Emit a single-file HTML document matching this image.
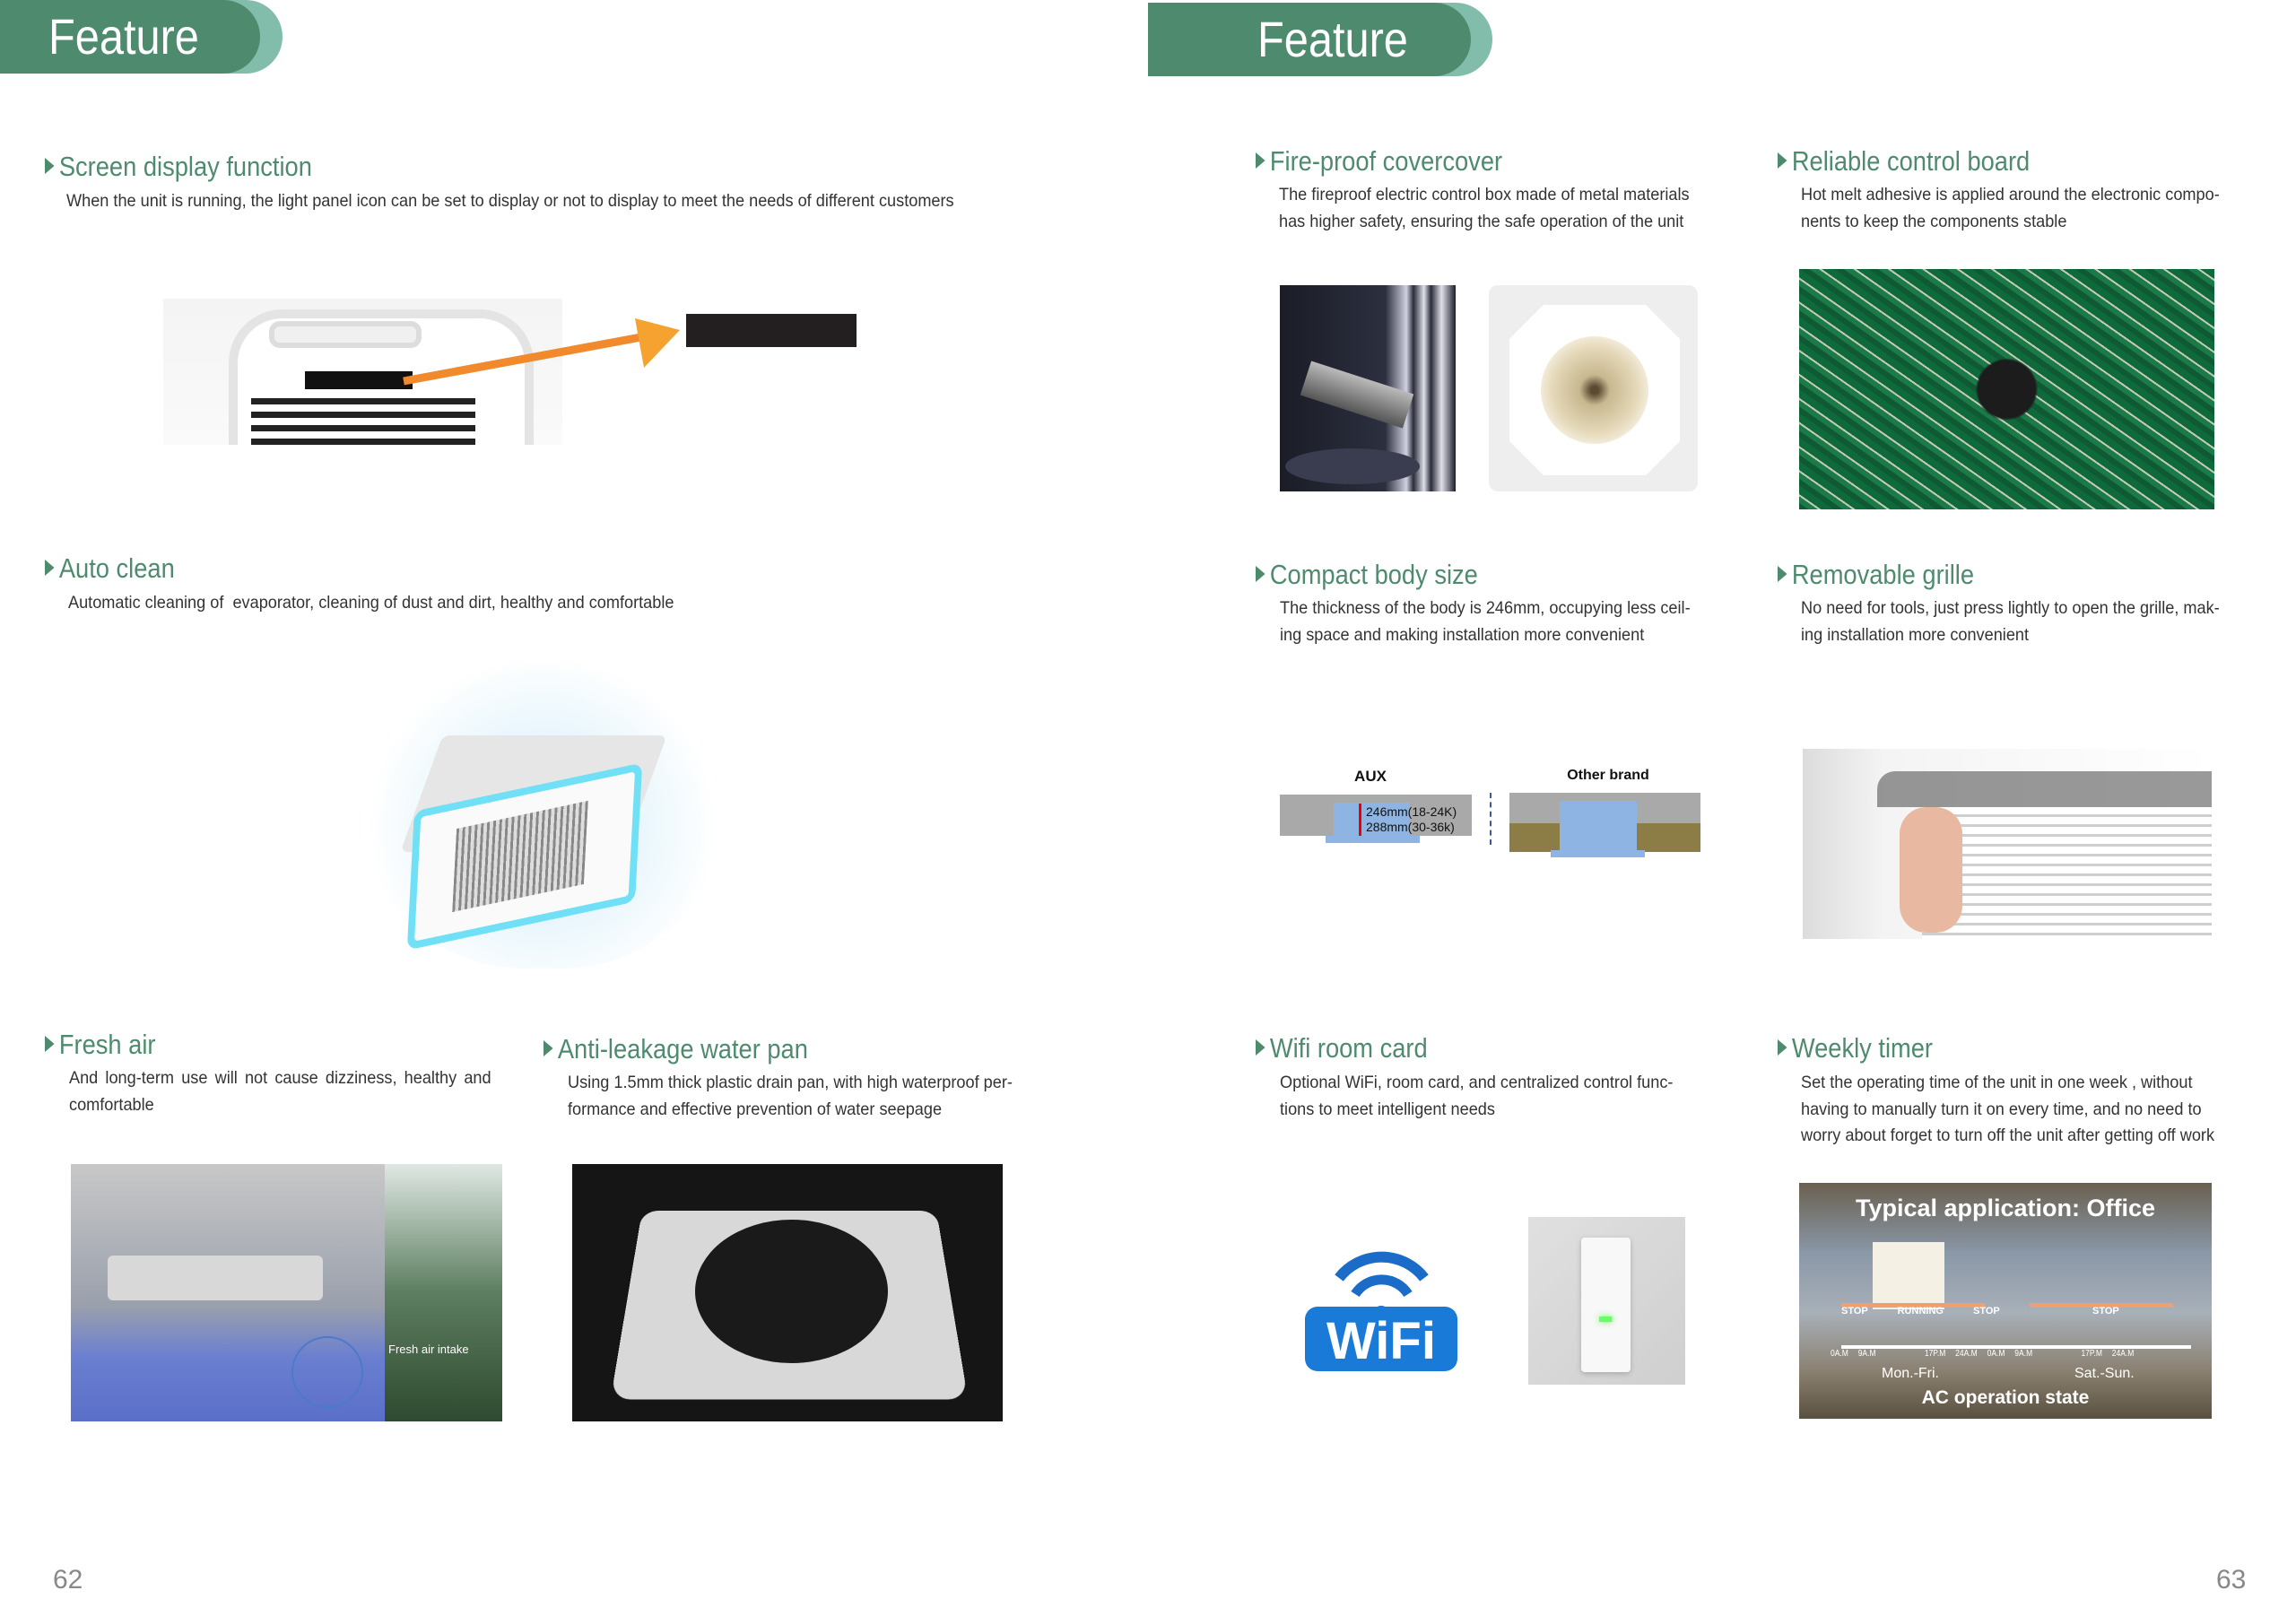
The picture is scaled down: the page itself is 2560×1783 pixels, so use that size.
<!DOCTYPE html>
<html><head><meta charset="utf-8"><style>
*{margin:0;padding:0;box-sizing:border-box}
body{width:2560px;height:1783px;background:#fff;position:relative;overflow:hidden;font-family:"Liberation Sans Narrow","Liberation Sans",sans-serif;color:#333}
.a{position:absolute}
.h{position:absolute;color:#4e8b6e;font-size:31px;white-space:nowrap;line-height:1;transform:scaleX(.88);transform-origin:left}
.h:before{content:"";display:inline-block;width:0;height:0;border-top:9px solid transparent;border-bottom:9px solid transparent;border-left:12px solid #4e8b6e;margin-right:6px;vertical-align:2px}
.t{position:absolute;font-size:19.5px;line-height:29.5px;color:#333;text-align:justify;transform:scaleX(.93);transform-origin:left}
.nw{white-space:nowrap}
.ban{position:absolute;height:82px;background:#82bcaa;border-radius:0 41px 41px 0}
.ban div{position:absolute;left:0;top:0;bottom:0;background:#4e8b6e;border-radius:0 41px 41px 0;color:#fff;font-size:56px;line-height:82px}
.ban span{display:inline-block;transform:scaleX(.87);transform-origin:left}
.pg{position:absolute;font-family:"Liberation Sans",sans-serif;font-size:30px;color:#888}
#r{position:absolute;left:-7px;top:0;width:2560px;height:1783px}
</style></head><body>

<div class="ban" style="left:0;top:0;width:315px"><div style="width:290px;padding-left:54px"><span>Feature</span></div></div>

<!-- left page -->
<div class="h" style="left:50px;top:170px">Screen display function</div>
<div class="t nw" style="left:74px;top:210px">When the unit is running, the light panel icon can be set to display or not to display to meet the needs of different customers</div>
<div class="a" style="left:182px;top:333px;width:445px;height:163px;background:linear-gradient(#f4f4f4,#fafafa)"></div>
<div class="a" style="left:255px;top:345px;width:340px;height:151px;border:10px solid #e4e4e4;border-bottom:none;border-radius:60px 60px 0 0;background:#fff"></div>
<div class="a" style="left:300px;top:358px;width:170px;height:30px;border:6px solid #ddd;border-radius:12px;background:#f0f0f0"></div>
<div class="a" style="left:340px;top:414px;width:120px;height:20px;background:#111"></div>
<div class="a" style="left:280px;top:440px;width:250px;height:56px;background:repeating-linear-gradient(#fff 0 4px,#222 4px 11px,#fff 11px 15px)"></div>
<svg class="a" style="left:440px;top:340px" width="340" height="100"><line x1="10" y1="85" x2="280" y2="35" stroke="#f08a2c" stroke-width="9"/><polygon points="268,15 318,28 278,70" fill="#f5a230"/></svg>
<div class="a" style="left:765px;top:350px;width:190px;height:37px;background:#231f20"></div>

<div class="h" style="left:50px;top:618px">Auto clean</div>
<div class="t nw" style="left:76px;top:658px">Automatic cleaning of&nbsp; evaporator, cleaning of dust and dirt, healthy and comfortable</div>
<div class="a" style="left:410px;top:730px;width:390px;height:350px;border-radius:45%;background:radial-gradient(ellipse at 50% 55%,rgba(120,200,240,.35),rgba(180,225,245,.15) 55%,transparent 70%)"></div>
<div class="a" style="left:470px;top:820px;width:250px;height:130px;background:#e6e6e6;transform:skewX(-20deg);border-radius:8px"></div>
<div class="a" style="left:455px;top:880px;width:260px;height:150px;background:#fafafa;border:8px solid #6fe0f5;transform:rotate(-12deg) skewX(-15deg);border-radius:12px"></div>
<div class="a" style="left:505px;top:910px;width:150px;height:90px;background:repeating-linear-gradient(90deg,#888 0 3px,#ddd 3px 7px);transform:rotate(-12deg) skewX(-15deg)"></div>

<div class="h" style="left:50px;top:1149px">Fresh air</div>
<div class="t" style="left:77px;top:1188px;width:506px">And long-term use will not cause dizziness, healthy and comfortable</div>
<div class="h" style="left:606px;top:1154px">Anti-leakage water pan</div>
<div class="t nw" style="left:633px;top:1193px">Using 1.5mm thick plastic drain pan, with high waterproof per-<br>formance and effective prevention of water seepage</div>
<div class="a" style="left:79px;top:1298px;width:350px;height:287px;background:linear-gradient(#c8c8c8,#9aa0ac 55%,#6b7fd0 75%,#5a6fc8)"></div>
<div class="a" style="left:120px;top:1400px;width:240px;height:50px;background:#d8d8d8;border-radius:6px"></div>
<div class="a" style="left:429px;top:1298px;width:131px;height:287px;background:linear-gradient(#dfe8e4,#5d7e60 50%,#2e4a30)"></div>
<div class="a" style="left:325px;top:1490px;width:80px;height:80px;border:2px solid #4a7ac8;border-radius:50%"></div>
<div class="a" style="left:433px;top:1497px;font-size:13px;color:#fff;font-family:'Liberation Sans',sans-serif">Fresh air intake</div>
<div class="a" style="left:638px;top:1298px;width:480px;height:287px;background:#151515"></div>
<div class="a" style="left:700px;top:1330px;width:360px;height:230px;background:#d8d8d8;transform:perspective(500px) rotateX(25deg);border-radius:20px"></div>
<div class="a" style="left:775px;top:1360px;width:215px;height:160px;background:#1a1a1a;border-radius:50%"></div>

<div class="pg" style="left:59px;top:1745px">62</div>

<!-- right page -->
<div id="r">
<div class="ban" style="left:1287px;top:3px;width:384px"><div style="width:360px;padding-left:122px"><span>Feature</span></div></div>
<div class="h" style="left:1407px;top:164px">Fire-proof covercover</div>
<div class="t nw" style="left:1433px;top:203px">The fireproof electric control box made of metal materials<br>has higher safety, ensuring the safe operation of the unit</div>
<div class="h" style="left:1989px;top:164px">Reliable control board</div>
<div class="t nw" style="left:2015px;top:203px">Hot melt adhesive is applied around the electronic compo-<br>nents to keep the components stable</div>
<div class="a" style="left:1434px;top:318px;width:196px;height:230px;background:linear-gradient(90deg,#1a1c26,#2c2f3e 60%,#cfd0e0 72%,#2a2c3a 76%,#e0e0ea 82%,#2a2c3a 86%,#e0e0ea 92%,#1a1c26)"></div>
<div class="a" style="left:1460px;top:420px;width:120px;height:40px;background:linear-gradient(#bbb,#555);transform:rotate(18deg)"></div>
<div class="a" style="left:1440px;top:500px;width:150px;height:40px;background:#3a3d50;border-radius:50%"></div>
<div class="a" style="left:1667px;top:318px;width:233px;height:230px;background:#eeeeee;border-radius:10px"></div>
<div class="a" style="left:1690px;top:340px;width:190px;height:190px;background:#fff;clip-path:polygon(20% 0,80% 0,100% 20%,100% 80%,80% 100%,20% 100%,0 80%,0 20%)"></div>
<div class="a" style="left:1725px;top:375px;width:120px;height:120px;background:radial-gradient(#5a4a30 5%,#c8b890 20%,#e4d8b8 55%,#f2ead8 70%);border-radius:50%"></div>
<div class="a" style="left:2013px;top:300px;width:463px;height:268px;background:radial-gradient(circle at 50% 50%,#1c1c1c 12%,transparent 13%),repeating-linear-gradient(35deg,#0f5a34 0 6px,#1a7a48 6px 12px,#c9c9b8 12px 14px,#0e6a3a 14px 22px)"></div>

<div class="h" style="left:1407px;top:625px">Compact body size</div>
<div class="t nw" style="left:1434px;top:664px">The thickness of the body is 246mm, occupying less ceil-<br>ing space and making installation more convenient</div>
<div class="h" style="left:1989px;top:625px">Removable grille</div>
<div class="t nw" style="left:2015px;top:664px">No need for tools, just press lightly to open the grille, mak-<br>ing installation more convenient</div>

<div class="a" style="left:1490px;top:856px;width:90px;text-align:center;font-family:'Liberation Sans',sans-serif;font-weight:bold;font-size:17px;color:#111">AUX</div>
<div class="a" style="left:1434px;top:886px;width:214px;height:46px;background:#a9a9a9"></div>
<div class="a" style="left:1494px;top:895px;width:85px;height:37px;background:#8eb4e3"></div>
<div class="a" style="left:1485px;top:932px;width:105px;height:8px;background:#8eb4e3"></div>
<div class="a" style="left:1522px;top:896px;width:3px;height:36px;background:#e00"></div>
<div class="a" style="left:1530px;top:897px;font-size:14px;line-height:17px;color:#111">246mm(18-24K)<br>288mm(30-36k)</div>
<div class="a" style="left:1668px;top:884px;width:0;height:58px;border-left:2px dashed #3a5a9a"></div>
<div class="a" style="left:1750px;top:856px;width:100px;text-align:center;font-family:'Liberation Sans',sans-serif;font-weight:bold;font-size:16px;color:#111">Other brand</div>
<div class="a" style="left:1690px;top:884px;width:213px;height:34px;background:#a9a9a9"></div>
<div class="a" style="left:1690px;top:918px;width:213px;height:32px;background:#8b7d45"></div>
<div class="a" style="left:1746px;top:893px;width:86px;height:57px;background:#8eb4e3"></div>
<div class="a" style="left:1736px;top:948px;width:105px;height:8px;background:#8eb4e3"></div>

<div class="a" style="left:2017px;top:835px;width:456px;height:212px;background:linear-gradient(90deg,#dcdcdc,#f4f4f4 20%,#fff)"></div>
<div class="a" style="left:2150px;top:900px;width:323px;height:147px;background:repeating-linear-gradient(#fff 0 8px,#cfcfcf 8px 11px)"></div>
<div class="a" style="left:2100px;top:860px;width:373px;height:40px;background:#555;border-radius:20px 0 0 0;opacity:.6"></div>
<div class="a" style="left:2125px;top:900px;width:70px;height:140px;background:#e8b9a0;border-radius:30px"></div>

<div class="h" style="left:1407px;top:1153px">Wifi room card</div>
<div class="t nw" style="left:1434px;top:1193px">Optional WiFi, room card, and centralized control func-<br>tions to meet intelligent needs</div>
<div class="h" style="left:1989px;top:1153px">Weekly timer</div>
<div class="t nw" style="left:2015px;top:1193px">Set the operating time of the unit in one week , without<br>having to manually turn it on every time, and no need to<br>worry about forget to turn off the unit after getting off work</div>

<svg class="a" style="left:1460px;top:1385px" width="175" height="145"><path d="M40 40 A60 60 0 0 1 135 40" stroke="#1a6cc8" stroke-width="12" fill="none"/><path d="M58 58 A35 35 0 0 1 117 58" stroke="#1a6cc8" stroke-width="11" fill="none"/><circle cx="87" cy="80" r="9" fill="#1a6cc8"/><rect x="2" y="72" width="170" height="72" rx="14" fill="#1a7ad8"/><text x="87" y="130" text-anchor="middle" font-family="Liberation Sans" font-weight="bold" font-size="58" fill="#fff">WiFi</text></svg>
<div class="a" style="left:1711px;top:1357px;width:175px;height:187px;background:linear-gradient(135deg,#e0e0e0,#cfcfcf)"></div>
<div class="a" style="left:1770px;top:1380px;width:55px;height:150px;background:#f8f8f8;border-radius:4px;box-shadow:0 2px 6px #aaa"></div>
<div class="a" style="left:1790px;top:1468px;width:14px;height:6px;background:#6f6;box-shadow:0 0 8px #6f6"></div>

<div class="a" style="left:2013px;top:1319px;width:460px;height:263px;background:linear-gradient(#6a6050,#8a98a8 30%,#a8b0b8 55%,#8a8070 80%,#5a5040)"></div>
<div class="a" style="left:2013px;top:1332px;width:460px;text-align:center;color:#fff;font-size:27px;font-weight:bold">Typical application: Office</div>
<div class="a" style="left:2095px;top:1385px;width:80px;height:75px;background:#f4f0e4"></div>
<div class="a" style="left:2060px;top:1453px;width:160px;height:5px;background:#f0a070"></div>
<div class="a" style="left:2270px;top:1453px;width:160px;height:5px;background:#f0a070"></div>
<div class="a" style="left:2060px;top:1500px;width:390px;height:4px;background:#fff"></div>
<div class="a" style="left:2060px;top:1456px;font-size:11px;color:#fff;font-weight:bold;word-spacing:30px">STOP RUNNING STOP</div>
<div class="a" style="left:2340px;top:1456px;font-size:11px;color:#fff;font-weight:bold">STOP</div>
<div class="a" style="left:2048px;top:1504px;font-size:10px;color:#fff;white-space:nowrap;transform:scaleX(.85);transform-origin:left;word-spacing:10px">0A.M 9A.M &nbsp; &nbsp; 17P.M 24A.M 0A.M 9A.M &nbsp; &nbsp; 17P.M 24A.M</div>
<div class="a" style="left:2105px;top:1523px;font-size:16px;color:#fff">Mon.-Fri.</div>
<div class="a" style="left:2320px;top:1523px;font-size:16px;color:#fff">Sat.-Sun.</div>
<div class="a" style="left:2013px;top:1547px;width:460px;text-align:center;color:#fff;font-size:21px;font-weight:bold">AC operation state</div>

<div class="pg" style="left:2478px;top:1745px">63</div>
</div>
</body></html>
